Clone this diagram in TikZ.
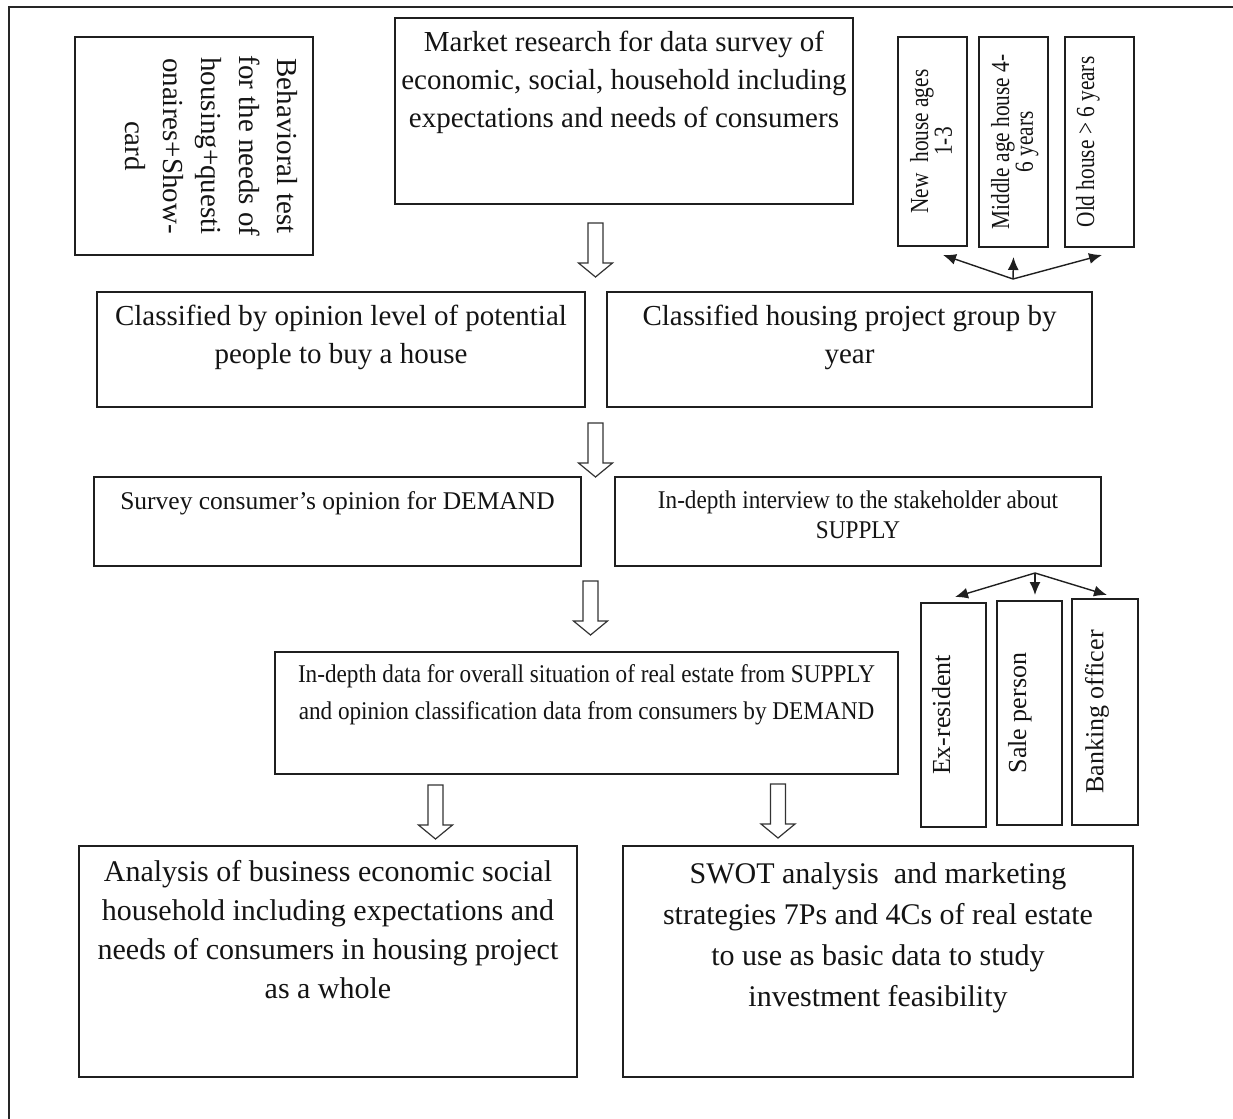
\documentclass[tikz,border=0pt]{standalone}
\usepackage{fontspec}
\setmainfont{Liberation Serif}
\newfontfamily\condA[FakeStretch=0.82]{Liberation Serif}
\newfontfamily\condB[FakeStretch=0.91]{Liberation Serif}
\usetikzlibrary{arrows.meta}
\newcommand{\tbox}[4]{\parbox[c][#2][t]{#1}{\centering\vspace*{#3}#4\par}}
\tikzset{
  box/.style={draw=black!88, line width=1.4pt, inner sep=0pt, outer sep=0pt, text=black!92},
  fa/.style={font=\fontsize{29}{38}\selectfont},
  fb/.style={font=\condA\fontsize{26}{22}\selectfont},
  fc/.style={font=\fontsize{25.5}{30}\selectfont},
  fci/.style={font=\condB\fontsize{25.5}{30}\selectfont},
  fd/.style={font=\condB\fontsize{25.5}{37}\selectfont},
  fe/.style={font=\fontsize{26}{30}\selectfont},
  ff/.style={font=\fontsize{30}{39}\selectfont},
  fg/.style={font=\fontsize{30}{41}\selectfont},
  arr/.style={draw=black!88, line width=1.4pt, -{Latex[length=13pt,width=11pt]}},
  barrow/.pic={\draw[black!80, line width=1.2pt, fill=white, line join=miter]
     (-7.5,0) -- (7.5,0) -- (7.5,40) -- (17,40) -- (0,54) -- (-17,40) -- (-7.5,40) -- cycle;},
  frame/.style={draw=black!85, line width=1.3pt}
}
\begin{document}
\begin{tikzpicture}[x=1pt,y=-1pt]
\useasboundingbox (0,0) rectangle (1233,1118);
\fill[white] (0,0) rectangle (1233,1118);
\draw[frame] (9,1130) -- (9,7) -- (1245,7);

% top row
\node[box,fa,rotate=-90] (behav) at (194,146)
  {\tbox{218pt}{238pt}{15pt}{Behavioral test\\for the needs of\\housing+questi\\onaires+Show-\\card}};
\node[box,fa,anchor=north west] (market) at (395,18)
  {\tbox{458pt}{186pt}{13pt}{Market research for data survey of\\economic, social, household including\\expectations and needs of consumers}};
\node[box,fb,rotate=90] (newh) at (932.5,141.5)
  {\tbox{209pt}{69pt}{12pt}{New \ house ages\\1-3}};
\node[box,fb,rotate=90] (midh) at (1013.5,142)
  {\tbox{210pt}{69pt}{12pt}{Middle age house 4-\\6 years}};
\node[box,fb,rotate=90] (oldh) at (1099.5,142)
  {\tbox{210pt}{69pt}{11pt}{Old house > 6 years}};

% second row
\node[box,fa,anchor=north west] (opin) at (97,292)
  {\tbox{488pt}{115pt}{13pt}{Classified by opinion level of potential\\people to buy a house}};
\node[box,fa,anchor=north west] (house) at (607,292)
  {\tbox{485pt}{115pt}{13pt}{Classified housing project group by\\year}};

% third row
\node[box,fc,anchor=north west] (survey) at (94,477)
  {\tbox{487pt}{89pt}{15pt}{Survey consumer’s opinion for DEMAND}};
\node[box,fci,anchor=north west] (interview) at (615,477)
  {\tbox{486pt}{89pt}{14pt}{In-depth interview to the stakeholder about\\SUPPLY}};

% fourth row
\node[box,fd,anchor=north west] (data) at (275,652)
  {\tbox{623pt}{122pt}{13pt}{In-depth data for overall situation of real estate from SUPPLY\\and opinion classification data from consumers by DEMAND}};
\node[box,fe,rotate=90] (exr) at (953.5,715)
  {\tbox{224pt}{65pt}{11pt}{Ex-resident}};
\node[box,fe,rotate=90] (sale) at (1029.5,713)
  {\tbox{224pt}{65pt}{11pt}{Sale person}};
\node[box,fe,rotate=90] (bank) at (1105,712)
  {\tbox{226pt}{66pt}{13pt}{Banking officer}};

% bottom row
\node[box,ff,anchor=north west] (analysis) at (79,846)
  {\tbox{498pt}{231pt}{14pt}{Analysis of business economic social\\household including expectations and\\needs of consumers in housing project\\as a whole}};
\node[box,fg,anchor=north west] (swot) at (623,846)
  {\tbox{510pt}{231pt}{17pt}{SWOT analysis \ and marketing\\strategies 7Ps and 4Cs of real estate\\to use as basic data to study\\investment feasibility}};

% block arrows
\pic at (595.5,223) {barrow};
\pic at (595.5,423) {barrow};
\pic at (590.5,581) {barrow};
\pic at (435.5,785) {barrow};
\pic at (778,784) {barrow};

% fan-out arrows
\coordinate (hub1) at (1013,279);
\draw[arr] (hub1) -- ([xshift=10.5pt,yshift=-9pt]newh.west);
\draw[arr] (hub1) -- ([yshift=-10pt]midh.west);
\draw[arr] (hub1) -- ([xshift=2.5pt,yshift=-8pt]oldh.west);
\coordinate (hub2) at (1035,573);
\draw[arr] (hub2) -- ([xshift=1.5pt,yshift=6pt]exr.east);
\draw[arr] (hub2) -- ([xshift=5.5pt,yshift=6pt]sale.east);
\draw[arr] (hub2) -- ([xshift=2pt,yshift=4pt]bank.east);
\end{tikzpicture}
\end{document}
